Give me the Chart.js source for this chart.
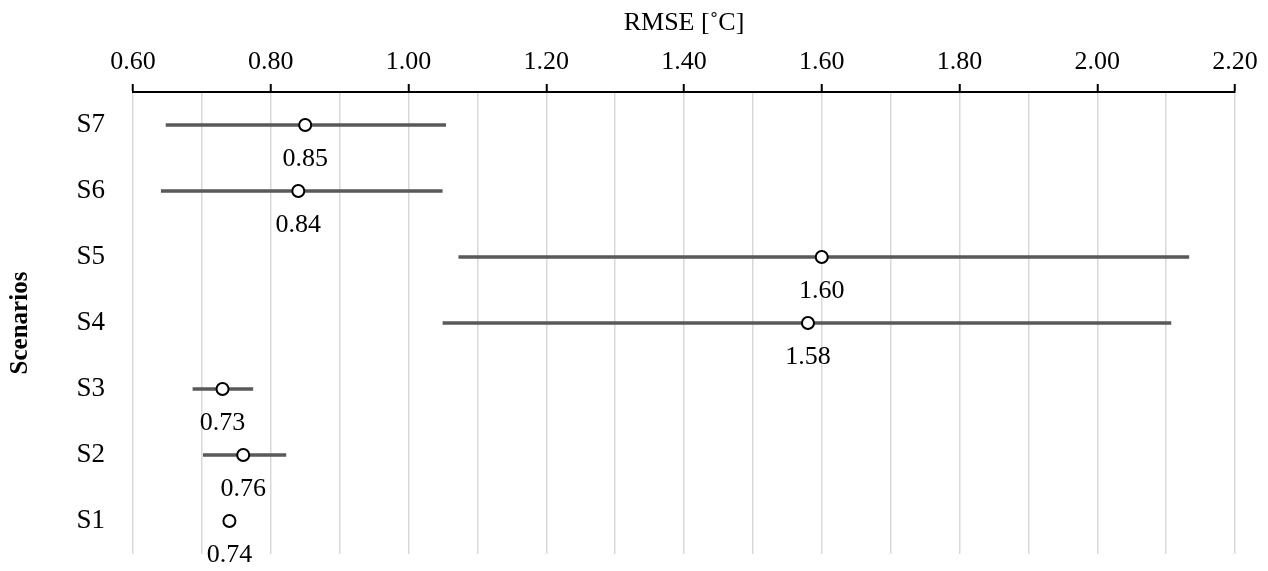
<!DOCTYPE html>
<html>
<head>
<meta charset="utf-8">
<script src="https://cdn.jsdelivr.net/npm/chart.js@4/dist/chart.umd.min.js"></script>
<style>
    body { margin: 0; background: #fff; }
    #wrap { width: 1268px; height: 571px; }
</style>
</head>
<body>
<div id="wrap"><canvas id="rmseChart"></canvas></div>
<script>
const scenarios = ['S7', 'S6', 'S5', 'S4', 'S3', 'S2', 'S1'];
const rmseMean = [0.85, 0.84, 1.60, 1.58, 0.73, 0.76, 0.74];
const rmseLow = [0.648, 0.641, 1.073, 1.050, 0.687, 0.702, null];
const rmseHigh = [1.054, 1.049, 2.133, 2.107, 0.774, 0.822, null];

const serif = "'Liberation Serif', 'Times New Roman', serif";

// value labels under each marker
const valueLabels = {
    id: 'valueLabels',
    afterDatasetsDraw(chart) {
        const meta = chart.getDatasetMeta(1);
        const ctx = chart.ctx;
        ctx.save();
        ctx.font = '26px ' + serif;
        ctx.fillStyle = '#000';
        ctx.textAlign = 'center';
        ctx.textBaseline = 'middle';
        meta.data.forEach((pt, i) => {
            ctx.fillText(rmseMean[i].toFixed(2), pt.x, pt.y + 34);
        });
        ctx.restore();
    }
};

function initChart() {
    const ctx = document.getElementById('rmseChart').getContext('2d');
    return new Chart(ctx, {
        type: 'bar',
        data: {
            labels: scenarios,
            datasets: [{
                label: 'range',
                data: rmseLow.map((lo, i) => lo === null ? null : [lo, rmseHigh[i]]),
                backgroundColor: '#595959',
                borderWidth: 0,
                barThickness: 3,
                order: 2
            }, {
                type: 'line',
                label: 'RMSE',
                indexAxis: 'y',
                data: rmseMean,
                showLine: false,
                pointRadius: 6,
                pointHoverRadius: 6,
                pointBorderWidth: 2,
                pointBorderColor: '#000',
                pointBackgroundColor: '#fff',
                order: 1
            }]
        },
        options: {
            indexAxis: 'y',
            responsive: true,
            maintainAspectRatio: false,
            animation: false,
            layout: { autoPadding: false, padding: { top: 0, right: 33, bottom: 17, left: 0 } },
            scales: {
                x: {
                    position: 'top',
                    min: 0.6,
                    max: 2.2,
                    afterFit: (scale) => {
                        scale.height = 92;
                        scale.paddingLeft = 0;
                        scale.paddingRight = 0;
                    },
                    border: { display: true, color: '#000', width: 2 },
                    grid: {
                        color: '#d9d9d9',
                        lineWidth: 1.5,
                        drawTicks: true,
                        tickLength: 8,
                        tickWidth: 2,
                        tickColor: (c) => Math.round(c.tick.value * 10) % 2 === 0 ? '#000' : 'rgba(0,0,0,0)'
                    },
                    ticks: {
                        stepSize: 0.1,
                        color: '#000',
                        padding: 6,
                        maxRotation: 0,
                        autoSkip: false,
                        font: { family: serif, size: 26 },
                        callback: (v) => Math.round(v * 10) % 2 === 0 ? Number(v).toFixed(2) : ''
                    },
                    title: {
                        display: true,
                        text: 'RMSE [˚C]',
                        color: '#000',
                        font: { family: serif, size: 26 },
                        padding: { top: 8, bottom: 0 }
                    }
                },
                y: {
                    afterFit: (scale) => {
                        scale.width = 133;
                        scale.paddingTop = 0;
                        scale.paddingBottom = 0;
                    },
                    offset: true,
                    border: { display: false },
                    grid: { display: false },
                    ticks: {
                        color: '#000',
                        padding: 20,
                        font: { family: serif, size: 27 }
                    },
                    title: {
                        display: true,
                        text: 'Scenarios',
                        color: '#000',
                        font: { family: serif, size: 25, weight: 'bold' },
                        padding: { top: 6, bottom: 0 }
                    }
                }
            },
            plugins: {
                legend: { display: false },
                tooltip: { enabled: false }
            }
        },
        plugins: [valueLabels]
    });
}

window.onload = () => {
    initChart();
};
</script>
</body>
</html>
